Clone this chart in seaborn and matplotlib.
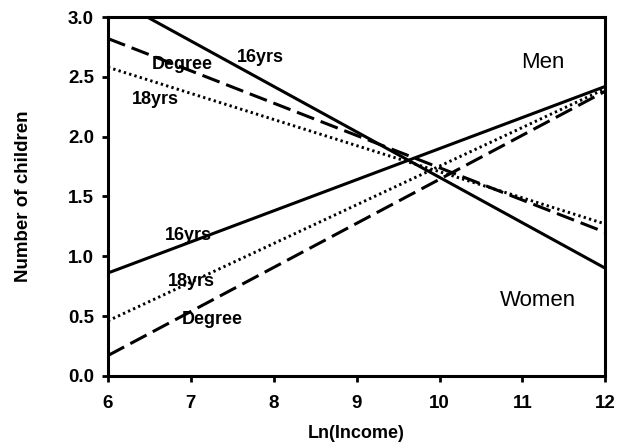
import pandas as pd
import matplotlib
matplotlib.use("Agg")
import matplotlib.pyplot as plt
import seaborn as sns

# fitted lines: value at Ln(Income)=6 and at 12
x_ends = [6, 12]
men_16yrs = [0.86, 2.42]
men_18yrs = [0.46, 2.40]
men_degree = [0.17, 2.38]
women_16yrs = [3.18, 0.90]
women_18yrs = [2.58, 1.27]
women_degree = [2.82, 1.20]

x_ticks = [6, 7, 8, 9, 10, 11, 12]
y_ticks = [0.0, 0.5, 1.0, 1.5, 2.0, 2.5, 3.0]


def main():
    sns.set_style("ticks")
    plt.rcParams["font.family"] = ["Liberation Sans", "DejaVu Sans"]
    plt.rcParams["text.color"] = "black"
    plt.rcParams["axes.labelcolor"] = "black"
    plt.rcParams["xtick.color"] = "black"
    plt.rcParams["ytick.color"] = "black"

    rows = []
    for name, vals in [("m16", men_16yrs), ("m18", men_18yrs), ("mdeg", men_degree),
                       ("w16", women_16yrs), ("w18", women_18yrs), ("wdeg", women_degree)]:
        for x, y in zip(x_ends, vals):
            rows.append({"line": name, "x": x, "y": y})
    df = pd.DataFrame(rows)

    styles = {
        "m16": "-", "w16": "-",
        "m18": (0, (0.8, 1.1)), "w18": (0, (0.8, 1.1)),
        "mdeg": (0, (6, 2.3)), "wdeg": (0, (6, 2.3)),
    }

    fig = plt.figure(figsize=(6.24, 4.48), dpi=100)
    ax = fig.add_axes([0.173, 0.161, 0.797, 0.801])
    for name, grp in df.groupby("line"):
        sns.lineplot(data=grp, x="x", y="y", ax=ax, color="black",
                     linewidth=2.2 if not name.endswith("18") else 2.1,
                     linestyle=styles[name], legend=False)

    ax.set_xlim(6, 12)
    ax.set_ylim(0, 3.0)
    ax.set_xticks(x_ticks)
    ax.set_yticks(y_ticks)
    ax.set_yticklabels([f"{v:.1f}" for v in y_ticks])
    ax.tick_params(labelsize=13.5, width=2, length=4, pad=6, direction="out")
    ax.tick_params(axis="x", pad=10)
    for lab in ax.get_xticklabels() + ax.get_yticklabels():
        lab.set_fontweight("bold")
    for sp in ax.spines.values():
        sp.set_visible(True)
        sp.set_linewidth(2.2)
        sp.set_color("black")

    ax.set_xlabel("Ln(Income)", fontsize=13, fontweight="bold", labelpad=9)
    ax.set_ylabel("Number of children", fontsize=13.5, fontweight="bold", labelpad=26)

    txt = dict(fontsize=13, fontweight="bold", ha="center", va="center")
    ax.text(7.84, 2.66, "16yrs", **txt)
    ax.text(6.9, 2.60, "Degree", **txt)
    ax.text(6.57, 2.31, "18yrs", **txt)
    ax.text(6.97, 1.17, "16yrs", **txt)
    ax.text(7.01, 0.79, "18yrs", **txt)
    ax.text(7.26, 0.47, "Degree", **txt)
    ax.text(11.25, 2.62, "Men", fontsize=16, ha="center", va="center")
    ax.text(11.19, 0.63, "Women", fontsize=16, ha="center", va="center")

    fig.savefig("out.png", dpi=100)
    plt.close(fig)


if __name__ == "__main__":
    main()
